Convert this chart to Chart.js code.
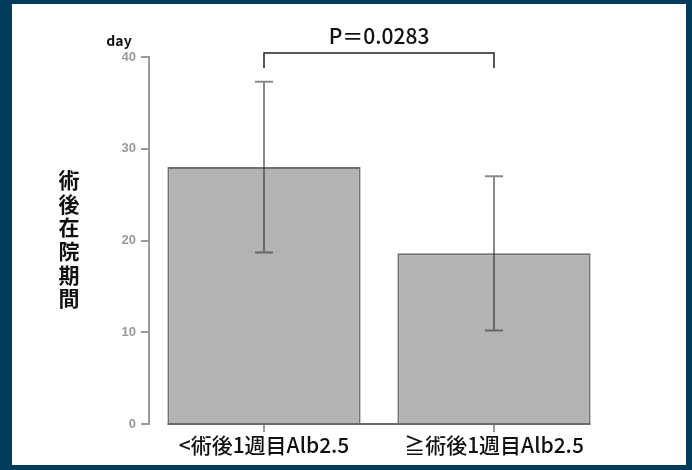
<!DOCTYPE html>
<html>
<head>
<meta charset="utf-8">
<script src="https://cdn.jsdelivr.net/npm/chart.js@4/dist/chart.umd.min.js"></script>
<style>
  html, body { margin: 0; padding: 0; background: #023c5c; width: 692px; height: 470px; overflow: hidden; }
  #panel { position: absolute; left: 12px; top: 4px; width: 674px; height: 461px; background: #ffffff; }
  canvas { display: block; }
</style>
</head>
<body>
<div id="panel"><canvas id="c" width="674" height="461"></canvas></div>
<script>
// Postoperative hospital stay by albumin level one week after surgery
const categories = ['<術後1週目Alb2.5', '≧術後1週目Alb2.5'];
const meanDays = [28.0, 18.6];
const sdDays = [9.3, 8.4];
const yTickValues = [0, 10, 20, 30, 40];
const yAxisTitle = '術後在院期間';
const yUnit = 'day';
const pValueLabel = 'P＝0.0283';

const CJK = '"Noto Sans CJK JP", "Noto Sans", sans-serif';

const annotations = {
  id: 'annotations',
  afterDatasetsDraw(chart) {
    const { ctx, chartArea, scales } = chart;
    const x = scales.x, y = scales.y;
    const meta = chart.getDatasetMeta(0);
    ctx.save();

    // baseline joining the bars
    const first = meta.data[0], last = meta.data[meta.data.length - 1];
    const y0 = y.getPixelForValue(0);
    ctx.strokeStyle = '#6a6a6a';
    ctx.lineWidth = 2;
    ctx.beginPath();
    ctx.moveTo(first.x - first.width / 2, y0);
    ctx.lineTo(last.x + last.width / 2, y0);
    ctx.stroke();

    // mean ± SD whiskers
    ctx.strokeStyle = 'rgba(40,40,40,0.55)';
    ctx.lineWidth = 2;
    meanDays.forEach((m, i) => {
      const cx = x.getPixelForValue(i);
      const yHi = y.getPixelForValue(m + sdDays[i]);
      const yLo = y.getPixelForValue(m - sdDays[i]);
      const cap = 9;
      ctx.beginPath();
      ctx.moveTo(cx, yHi); ctx.lineTo(cx, yLo);
      ctx.moveTo(cx - cap, yHi); ctx.lineTo(cx + cap, yHi);
      ctx.moveTo(cx - cap, yLo); ctx.lineTo(cx + cap, yLo);
      ctx.stroke();
    });

    // significance bracket
    const bx1 = x.getPixelForValue(0), bx2 = x.getPixelForValue(1);
    const by = chartArea.top - 4;
    ctx.strokeStyle = '#222';
    ctx.lineWidth = 1.5;
    ctx.beginPath();
    ctx.moveTo(bx1, by + 15); ctx.lineTo(bx1, by);
    ctx.lineTo(bx2, by); ctx.lineTo(bx2, by + 15);
    ctx.stroke();

    ctx.fillStyle = '#111';
    ctx.textAlign = 'center';
    ctx.textBaseline = 'middle';
    ctx.font = '500 21px ' + CJK;
    ctx.fillText(pValueLabel, (bx1 + bx2) / 2, by - 17);

    // unit label above the value axis
    ctx.font = 'bold 14px ' + CJK;
    ctx.fillText(yUnit, chartArea.left - 30, chartArea.top - 16);

    // vertical axis title, one character per line
    ctx.font = 'bold 21px ' + CJK;
    const chars = Array.from(yAxisTitle);
    const step = 23.7;
    const startY = 176;
    chars.forEach((ch, i) => ctx.fillText(ch, 57, startY + i * step));

    ctx.restore();
  }
};

new Chart(document.getElementById('c'), {
  type: 'bar',
  data: {
    labels: categories,
    datasets: [{
      data: meanDays,
      backgroundColor: '#b3b3b3',
      borderColor: '#707070',
      borderWidth: 2,
      borderSkipped: 'start',
      barPercentage: 0.84,
      categoryPercentage: 1.0
    }]
  },
  options: {
    responsive: false,
    animation: false,
    devicePixelRatio: 1,
    layout: { padding: { top: 53, left: 87, right: 77, bottom: 0 } },
    plugins: { legend: { display: false }, tooltip: { enabled: false } },
    scales: {
      x: {
        offset: true,
        border: { display: false },
        grid: { drawOnChartArea: false, drawTicks: true, tickLength: 8, offset: false, color: '#9a9a9a', lineWidth: 2 },
        ticks: { color: '#111', font: { family: CJK, size: 21, weight: '500' }, padding: 0, maxRotation: 0 },
        afterFit(scale) { scale.height = 41; }
      },
      y: {
        min: 0,
        max: 40,
        border: { display: true, color: '#9a9a9a', width: 2 },
        grid: { drawOnChartArea: false, drawTicks: true, tickLength: 8, color: '#9a9a9a', lineWidth: 2 },
        afterBuildTicks(scale) { scale.ticks = yTickValues.map(v => ({ value: v })); },
        ticks: { color: '#999999', font: { family: '"Liberation Sans", sans-serif', size: 13, weight: 'bold' }, padding: 5 },
        afterFit(scale) { scale.width = 50; }
      }
    }
  },
  plugins: [annotations]
});
</script>
</body>
</html>
